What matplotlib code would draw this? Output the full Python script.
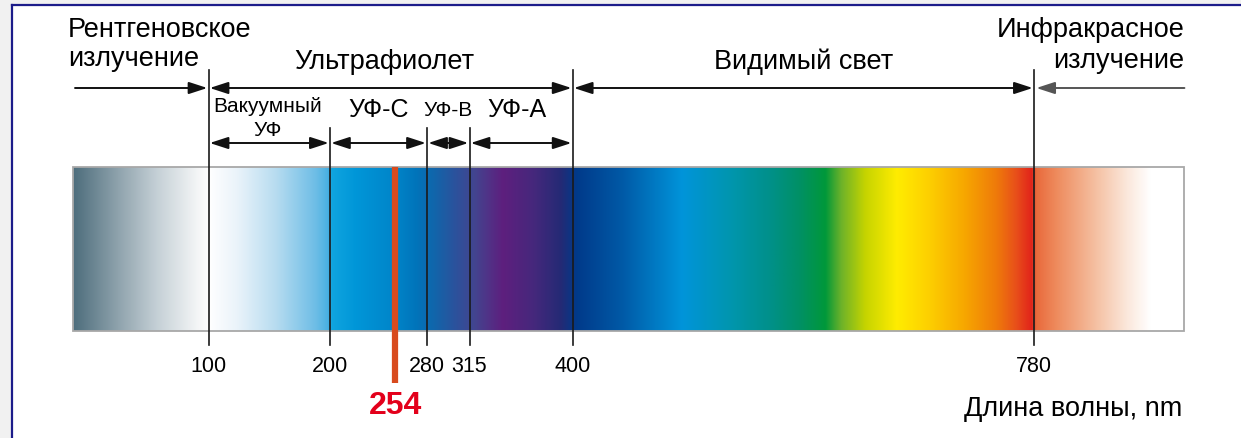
import matplotlib.pyplot as plt
import numpy as np
from matplotlib.colors import LinearSegmentedColormap
from matplotlib.lines import Line2D
from matplotlib.patches import Rectangle

# Boundaries (nm) and labels
bounds = [100, 200, 280, 315, 400, 780]
tick_labels = ['100', '200', '280', '315', '400', '780']
lamp_nm = 254
band_start, band_end = -12, 904

# colour stops of the spectrum bar (nm, colour)
stops_nm = [-12, 25, 57, 90, 100, 123, 155, 188, 198, 201, 221, 254, 270, 286, 302,
            319, 342, 367, 390, 403, 439, 490, 530, 562, 586, 608, 621, 641, 667,
            693, 722, 749, 765, 778, 782, 798, 831, 857, 876, 904]
stops_col = ['#4d6d7c', '#8fa3ad', '#c5d0d6', '#f3f5f6', '#ffffff', '#eaf3fa', '#b7dcf0',
             '#6dbde6', '#48b0e2', '#10a5df', '#0096d8', '#0084c8', '#0075bb', '#1265aa',
             '#2a539d', '#43448f', '#5e1f7e', '#46287c', '#242a75', '#003a8a', '#0058a5',
             '#0094da', '#0096ae', '#00908a', '#009066', '#00983a', '#6cb22a', '#c6d400',
             '#ffec00', '#fdd000', '#f7a800', '#ef7a0a', '#e8501a', '#e2231a', '#e96a3c',
             '#ee8a5c', '#f5c0a2', '#fbe8dc', '#ffffff', '#ffffff']

FONT = ['Liberation Sans', 'DejaVu Sans']

fig = plt.figure(figsize=(12.41, 4.38), dpi=100)
ax = fig.add_axes([0, 0, 1, 1])
ax.set_xlim(-71.8, 950.6)
ax.set_ylim(438, 0)
ax.axis('off')

# spectrum bar
pos = [(s - band_start) / (band_end - band_start) for s in stops_nm]
cmap = LinearSegmentedColormap.from_list('spec', list(zip(pos, stops_col)), N=1024)
grad = np.linspace(0, 1, 1024).reshape(1, -1)
ax.imshow(grad, cmap=cmap, aspect='auto', extent=[band_start, band_end, 331, 167], zorder=1)
ax.add_patch(Rectangle((band_start, 167), band_end - band_start, 164, fill=False,
                       edgecolor='#a8a8a8', lw=1.3, zorder=2))

# boundary lines
for b in bounds:
    top = 128 if b in (200, 280, 315) else 70
    ax.plot([b, b], [top, 345], color='#1a1a1a', lw=1.2, zorder=3)

# 254 nm line
ax.plot([lamp_nm, lamp_nm], [167, 383], color='#d84b1e', lw=4.5, solid_capstyle='butt', zorder=4)


def arrow(x0, x1, y, style='<|-|>', color='#111111'):
    ax.annotate('', xy=(x1, y), xytext=(x0, y),
                arrowprops=dict(arrowstyle=style + ',head_length=0.8,head_width=0.26',
                                color=color, lw=1.4, shrinkA=0, shrinkB=0,
                                mutation_scale=14), zorder=3)


# row 1
arrow(-10, bounds[0] - 1, 88, '-|>')
arrow(bounds[0] + 1, bounds[4] - 1, 88)
arrow(bounds[4] + 1, bounds[5] - 1, 88)
arrow(band_end, bounds[5] + 2, 88, '-|>', color='#555555')
# row 2
for a, b in zip(bounds[:4], bounds[1:5]):
    arrow(a + 1, b - 1, 143)

# region labels
ax.text(-16, 30, 'Рентгеновское', ha='left', va='center', fontsize=19.5, family=FONT)
ax.text(-16, 59, 'излучение', ha='left', va='center', fontsize=19.5, family=FONT)
ax.text(245, 62, 'Ультрафиолет', ha='center', va='center', fontsize=19.5, family=FONT)
ax.text(590, 62, 'Видимый свет', ha='center', va='center', fontsize=19.5, family=FONT)
ax.text(904, 30, 'Инфракрасное', ha='right', va='center', fontsize=19.5, family=FONT)
ax.text(904, 61, 'излучение', ha='right', va='center', fontsize=19.5, family=FONT)

ax.text(149, 107, 'Вакуумный', ha='center', va='center', fontsize=15, family=FONT)
ax.text(149, 131, 'УФ', ha='center', va='center', fontsize=15, family=FONT)
ax.text(240, 110, 'УФ-С', ha='center', va='center', fontsize=18, family=FONT)
ax.text(297, 110, 'УФ-В', ha='center', va='center', fontsize=15, family=FONT)
ax.text(354, 110, 'УФ-А', ha='center', va='center', fontsize=18, family=FONT)

# tick labels
for b, lab in zip(bounds, tick_labels):
    ax.text(b, 366, lab, ha='center', va='center', fontsize=15.5, family=FONT)

ax.text(lamp_nm, 406, str(lamp_nm), ha='center', va='center', fontsize=23,
        fontweight='bold', color='#e3001b', family=FONT)
ax.text(902, 409, 'Длина волны, nm', ha='right', va='center', fontsize=19.5, family=FONT)

# screenshot frame
fig.add_artist(Rectangle((0, 0), 11 / 1241, 1, transform=fig.transFigure,
                         color='#f1f1f1', zorder=0))
fig.add_artist(Rectangle((0, 1 - 5 / 438), 1, 5 / 438, transform=fig.transFigure,
                         color='#f1f1f1', zorder=0))
fig.add_artist(Line2D([12 / 1241, 12 / 1241], [0, 1 - 5 / 438], transform=fig.transFigure,
                      color='#1c1c8a', lw=1.6))
fig.add_artist(Line2D([12 / 1241, 1], [1 - 5 / 438, 1 - 5 / 438], transform=fig.transFigure,
                      color='#1c1c8a', lw=1.6))

fig.savefig('out.png', dpi=100)
